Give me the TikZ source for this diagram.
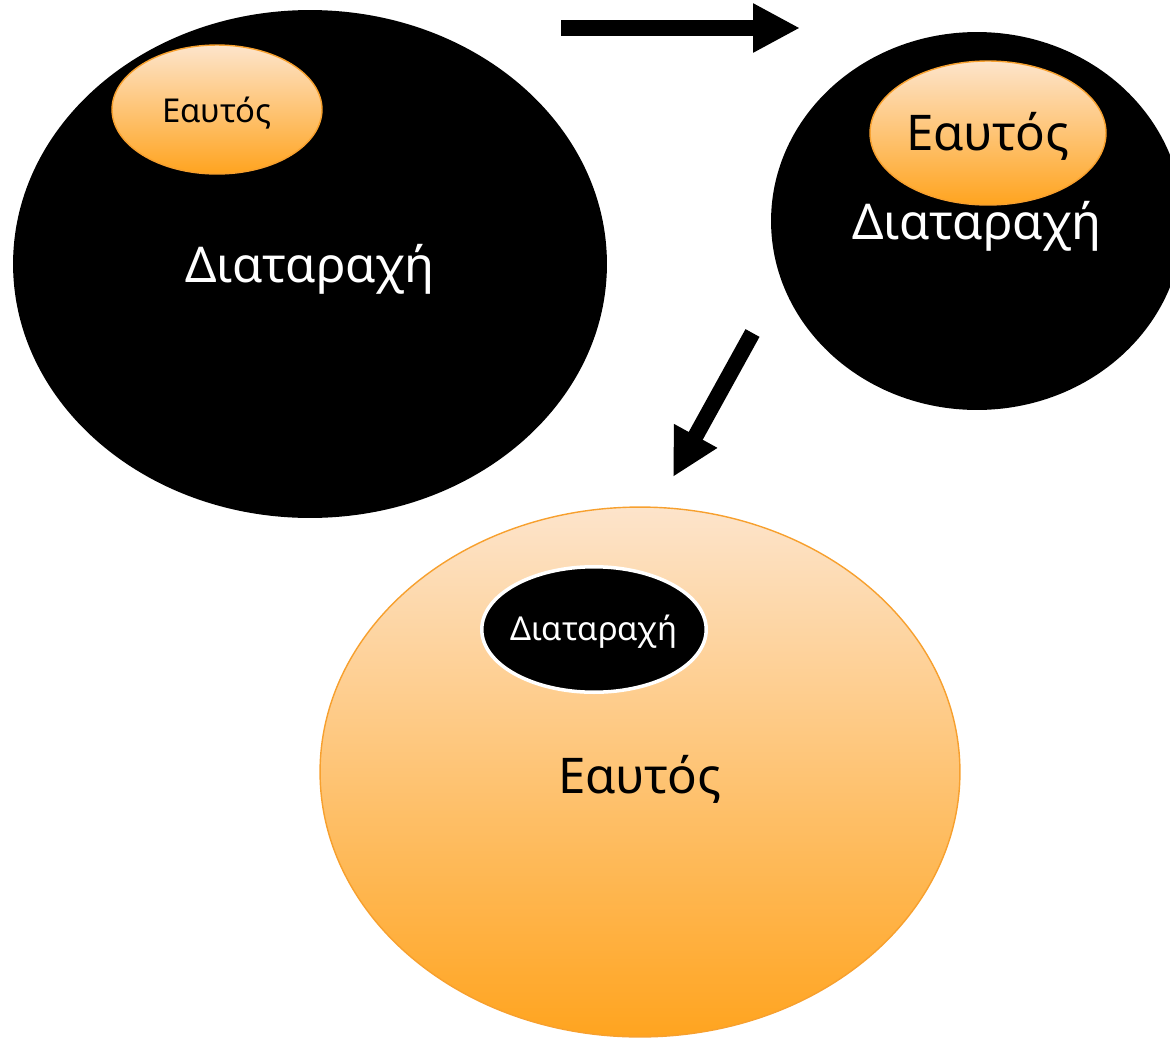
\documentclass[tikz,border=0pt]{standalone}
\usepackage{fontspec}
\setmainfont{Noto Sans}
\usepackage{xcolor}
\usetikzlibrary{arrows.meta,shapes.geometric}

\definecolor{selftop}{HTML}{FDE4CB}
\definecolor{selfbot}{HTML}{FFA41F}
\definecolor{selfline}{HTML}{F7A02E}

\begin{document}
\begin{tikzpicture}[
    x=0.02cm,
    y=-0.02cm,
    every node/.style={ellipse,inner sep=0pt},
    dist/.style={fill=black,text=white},
    self/.style={top color=selftop,bottom color=selfbot,draw=selfline,line width=0.8pt,text=black},
    bigtext/.style={font=\fontsize{28}{34}\selectfont},
    smalltext/.style={font=\fontsize{18.7}{22}\selectfont},
    bigarrow/.style={line width=0.32cm,-{Triangle[length=0.94cm,width=0.92cm]}}
]
\useasboundingbox (0,0) rectangle (1170,1038);

% Disturbance dominates
\node[dist,minimum width=11.88cm,minimum height=10.16cm] (distA) at (310,264) {};
\node[bigtext,text=white] (distAtext) at (310,269) {Διαταραχή};
\node[self,minimum width=4.2cm,minimum height=2.58cm] (selfA) at (217,109.5) {};
\node[smalltext] (selfAtext) at (217,113) {Εαυτός};

% Self grows
\node[dist,minimum width=8.24cm,minimum height=7.56cm] (distB) at (977,221) {};
\node[bigtext,text=white] (distBtext) at (977,226) {Διαταραχή};
\node[self,minimum width=4.72cm,minimum height=2.88cm] (selfB) at (988,133) {};
\node[bigtext] (selfBtext) at (988,136) {Εαυτός};

% Self dominates
\node[self,minimum width=12.8cm,minimum height=10.6cm] (selfC) at (640,772) {};
\node[bigtext] (selfCtext) at (640,779) {Εαυτός};
\node[dist,draw=white,line width=2pt,minimum width=4.49cm,minimum height=2.51cm] (distC) at (594,629.5) {};
\node[smalltext,text=white] (distCtext) at (594,632) {Διαταραχή};

% Arrows
\coordinate (arrAstart) at (561,28);
\coordinate (arrAend) at (800,28);
\coordinate (arrBstart) at (752.5,333);
\coordinate (arrBend) at (673,477);
\draw[bigarrow] (arrAstart) -- (arrAend);
\draw[bigarrow] (arrBstart) -- (arrBend);

\end{tikzpicture}
\end{document}
